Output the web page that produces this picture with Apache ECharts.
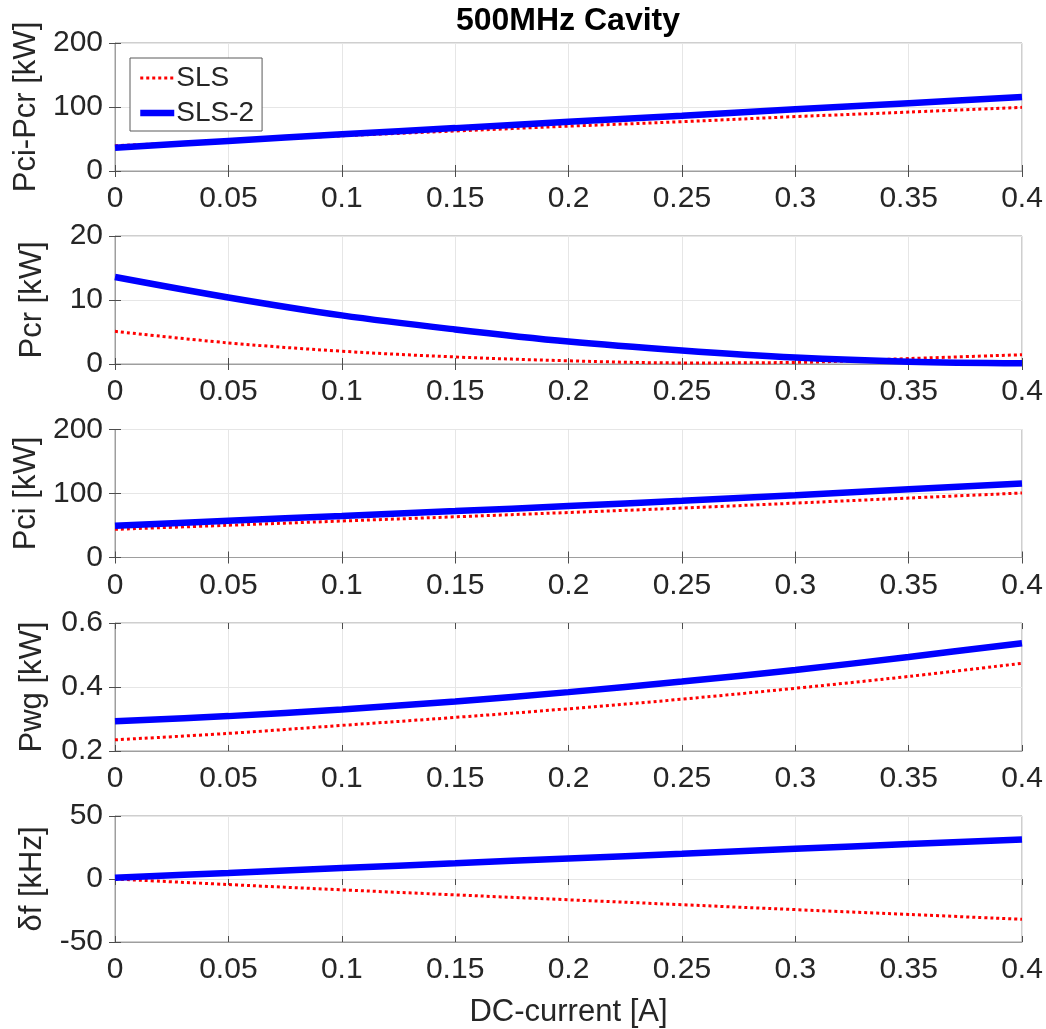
<!DOCTYPE html>
<html>
<head>
<meta charset="utf-8">
<script src="https://cdn.jsdelivr.net/npm/echarts@6/dist/echarts.min.js"></script>
<style>
html,body{margin:0;padding:0;background:#fff;}
#chart{width:1046px;height:1029px;}
</style>
</head>
<body>
<div id="chart"></div>
<script>
// ---- data ----
const current = [0, 0.05, 0.1, 0.15, 0.2, 0.25, 0.3, 0.35, 0.4];
const xTicks = ['0', '0.05', '0.1', '0.15', '0.2', '0.25', '0.3', '0.35', '0.4'];

const pciMinusPcrSLS  = [39.5, 47, 55, 62.5, 70, 77, 85, 92, 99.5];
const pciMinusPcrSLS2 = [36.5, 47, 57.5, 67, 77, 86.5, 96.5, 106, 115.6];

const pcrSLS  = [5.1, 3.3, 2.0, 1.1, 0.5, 0.17, 0.25, 0.85, 1.45];
const pcrSLS2 = [13.6, 10.4, 7.6, 5.4, 3.5, 2.1, 1.0, 0.35, 0.1];

const pciSLS  = [44, 50.4, 57, 63.6, 70.3, 77.2, 85, 92.9, 100.8];
const pciSLS2 = [49.5, 57.5, 65, 72.5, 80.3, 88.5, 97.3, 106.5, 115.6];

const pwgSLS  = [0.235, 0.255, 0.28, 0.305, 0.332, 0.362, 0.396, 0.433, 0.474];
const pwgSLS2 = [0.293, 0.309, 0.330, 0.355, 0.384, 0.417, 0.453, 0.494, 0.537];

const dfSLS  = [0, -4.4, -8.6, -12.6, -16.5, -20.4, -24.3, -28.1, -32];
const dfSLS2 = [1, 4.8, 8.7, 12.5, 16.3, 20, 24, 27.7, 31.3];

const panelNames = ['Pci-Pcr [kW]', 'Pcr [kW]', 'Pci [kW]', 'Pwg [kW]', 'δf [kHz]'];
const yMin = [0, 0, 0, 0.2, -50];
const yMax = [200, 20, 200, 0.6, 50];
const yInterval = [100, 10, 100, 0.2, 50];
const slsSets  = [pciMinusPcrSLS, pcrSLS, pciSLS, pwgSLS, dfSLS];
const sls2Sets = [pciMinusPcrSLS2, pcrSLS2, pciSLS2, pwgSLS2, dfSLS2];
const seriesNames = ['SLS', 'SLS-2'];
const titleText = '500MHz Cavity';
const xName = 'DC-current [A]';

// ---- layout ----
const gridTops = [43, 236, 429.5, 623, 816];
const gridH = 128;
const gridLeft = 115, gridRight = 24;
const FONT = '"Liberation Sans", Arial, sans-serif';
const txtColor = '#262626';
const frameColor = '#9e9e9e';
const tickColor = '#4d4d4d';
const gridLineColor = '#e6e6e6';

const fmt = v => String(+(+v).toFixed(3));

const grids = [], xAxes = [], yAxes = [], series = [];
gridTops.forEach((top, i) => {
  grids.push({left: gridLeft, right: gridRight, top: top, height: gridH,
    show: true, borderColor: frameColor, borderWidth: 1, backgroundColor: '#fff'});
  xAxes.push({
    type: 'value', gridIndex: i, min: 0, max: 0.4, interval: 0.05, position: 'bottom',
    axisLine: {show: true, onZero: false, lineStyle: {color: frameColor, width: 1}},
    axisTick: {show: true, inside: true, length: 6, lineStyle: {color: tickColor}},
    axisLabel: {show: true, fontFamily: FONT, fontSize: 30, color: txtColor, margin: 13,
      formatter: v => { const k = current.indexOf(+(+v).toFixed(3)); return k >= 0 ? xTicks[k] : fmt(v); }},
    splitLine: {show: true, lineStyle: {color: gridLineColor, width: 1}},
    name: i === 4 ? xName : '', nameLocation: 'middle', nameGap: 55,
    nameTextStyle: {fontFamily: FONT, fontSize: 31, color: txtColor}
  });
  xAxes.push({
    type: 'value', gridIndex: i, min: 0, max: 0.4, interval: 0.05, position: 'top',
    axisLine: {show: false}, axisLabel: {show: false}, splitLine: {show: false},
    axisTick: {show: true, inside: true, length: 6, lineStyle: {color: tickColor}}
  });
  yAxes.push({
    type: 'value', gridIndex: i, min: yMin[i], max: yMax[i], interval: yInterval[i], position: 'left',
    axisLine: {show: true, onZero: false, lineStyle: {color: frameColor, width: 1}},
    axisTick: {show: true, inside: true, length: 6, lineStyle: {color: tickColor}},
    axisLabel: {show: true, fontFamily: FONT, fontSize: 30, color: txtColor, margin: 12, formatter: fmt},
    splitLine: {show: true, lineStyle: {color: gridLineColor, width: 1}},
    name: panelNames[i], nameLocation: 'middle', nameGap: 67, nameRotate: 90,
    nameTextStyle: {fontFamily: FONT, fontSize: 31, color: txtColor}
  });
  yAxes.push({
    type: 'value', gridIndex: i, min: yMin[i], max: yMax[i], interval: yInterval[i], position: 'right',
    axisLine: {show: false}, axisLabel: {show: false}, splitLine: {show: false},
    axisTick: {show: true, inside: true, length: 6, lineStyle: {color: tickColor}}
  });
  const xi = i * 2, yi = i * 2;
  series.push({
    name: seriesNames[0], type: 'line', xAxisIndex: xi, yAxisIndex: yi,
    data: current.map((x, k) => [x, slsSets[i][k]]),
    smooth: 0.35, symbol: 'none', clip: false, z: 3,
    lineStyle: {color: '#ff0000', width: 3, type: [3, 3]},
    itemStyle: {color: '#ff0000'}
  });
  series.push({
    name: seriesNames[1], type: 'line', xAxisIndex: xi, yAxisIndex: yi,
    data: current.map((x, k) => [x, sls2Sets[i][k]]),
    smooth: 0.35, symbol: 'none', clip: false, z: 4,
    lineStyle: {color: '#0000ff', width: 6.5},
    itemStyle: {color: '#0000ff'}
  });
});

const chart = echarts.init(document.getElementById('chart'), null, {renderer: 'canvas'});
chart.setOption({
  animation: false,
  backgroundColor: '#fff',
  graphic: [{
    type: 'text', x: 568, y: 21, z: 10,
    style: {text: titleText, font: 'bold 32px ' + FONT, fill: '#000',
      textAlign: 'center', textVerticalAlign: 'middle'}
  }],
  legend: {
    show: true, orient: 'vertical', left: 130, top: 58,
    data: [
      {name: seriesNames[0], lineStyle: {width: 3, type: [3, 3], color: '#ff0000'}},
      {name: seriesNames[1], lineStyle: {width: 6.5, type: 'solid', color: '#0000ff'}}
    ],
    backgroundColor: '#fff', borderColor: '#5a5a5a', borderWidth: 1,
    padding: [6, 8, 4, 7], itemGap: 7, itemWidth: 34, itemHeight: 14,
    itemStyle: {opacity: 0, borderWidth: 0},
    lineStyle: {width: 'inherit'},
    textStyle: {fontFamily: FONT, fontSize: 28, color: txtColor, lineHeight: 28, padding: [0, 0, 0, -3]},
    z: 10
  },
  grid: grids, xAxis: xAxes, yAxis: yAxes, series: series
});
</script>
</body>
</html>
